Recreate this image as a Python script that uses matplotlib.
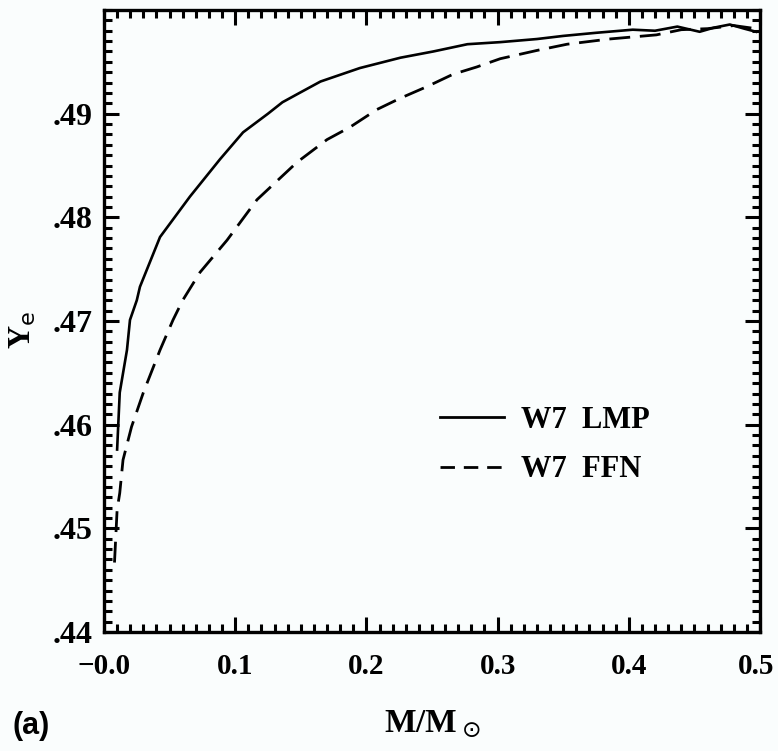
import matplotlib
matplotlib.use("Agg")
import matplotlib.pyplot as plt
from matplotlib.ticker import FixedLocator, MultipleLocator
from matplotlib.lines import Line2D
from matplotlib.transforms import ScaledTranslation

# ---- data ----
lmp_mass = [0.010, 0.012, 0.0175, 0.0198, 0.025, 0.0274, 0.0427, 0.0655, 0.0884,
            0.106, 0.125, 0.136, 0.149, 0.165, 0.195, 0.226, 0.251, 0.277, 0.302,
            0.330, 0.350, 0.375, 0.403, 0.420, 0.437, 0.454, 0.465, 0.477, 0.488, 0.497]
lmp_ye = [0.4576, 0.4631, 0.4672, 0.4701, 0.4720, 0.4733, 0.4781, 0.4820, 0.4856,
          0.4882, 0.4900, 0.4911, 0.4920, 0.4931, 0.4944, 0.4954, 0.4960, 0.4967, 0.4969,
          0.4972, 0.4975, 0.4978, 0.4981, 0.4980, 0.4984, 0.4979, 0.4983, 0.4986, 0.4982, 0.4979]

ffn_mass = [0.008, 0.010, 0.012, 0.0145, 0.021, 0.030, 0.0427, 0.0526, 0.060, 0.0732,
            0.0938, 0.1166, 0.147, 0.170, 0.1875, 0.208, 0.226, 0.246, 0.266, 0.284,
            0.302, 0.330, 0.353, 0.385, 0.421, 0.440, 0.460, 0.480, 0.497]
ffn_ye = [0.4467, 0.4518, 0.4534, 0.4566, 0.4598, 0.4631, 0.4672, 0.4701, 0.4720, 0.4747,
          0.4778, 0.4817, 0.4853, 0.4875, 0.4887, 0.4904, 0.4915, 0.4926, 0.4938, 0.4945,
          0.4953, 0.4961, 0.4967, 0.4972, 0.4976, 0.4981, 0.4982, 0.4985, 0.4982]

xticks = [0.0, 0.1, 0.2, 0.3, 0.4, 0.5]
xticklabels = ["\u22120.0", "0.1", "0.2", "0.3", "0.4", "0.5"]
yticks = [0.44, 0.45, 0.46, 0.47, 0.48, 0.49]
yticklabels = [".44", ".45", ".46", ".47", ".48", ".49"]
series_labels = ["W7  LMP", "W7  FFN"]

SERIF = ["Liberation Serif", "DejaVu Serif"]

bg = "#fafdfd"
fig = plt.figure(figsize=(7.78, 7.51), dpi=100, facecolor=bg)
ax = fig.add_axes([104/778, 1 - 632/751, (760-104)/778, (632-10)/751])
ax.set_facecolor(bg)

ax.plot(lmp_mass, lmp_ye, color="black", lw=1.9, solid_joinstyle="round")
ax.plot(ffn_mass, ffn_ye, color="black", lw=2.0, dashes=(7.5, 3.5))

ax.set_xlim(0.0, 0.5)
ax.set_ylim(0.44, 0.50)

ax.xaxis.set_major_locator(FixedLocator(xticks))
ax.set_xticklabels(xticklabels)
ax.yaxis.set_major_locator(FixedLocator(yticks))
ax.set_yticklabels(yticklabels)
ax.xaxis.set_minor_locator(MultipleLocator(0.01))
ax.yaxis.set_minor_locator(MultipleLocator(0.001))

for s in ax.spines.values():
    s.set_linewidth(2.4)

ax.tick_params(which="both", direction="in", top=True, right=True, width=2.2)
ax.tick_params(which="major", length=11)
ax.tick_params(which="minor", length=6)
ax.tick_params(axis="x", which="major", pad=15)
ax.tick_params(axis="y", which="major", pad=8)

for lab in ax.get_xticklabels():
    lab.set_family(SERIF)
    lab.set_fontweight("bold")
    lab.set_fontsize(21)
for lab in ax.get_yticklabels():
    lab.set_family(SERIF)
    lab.set_fontweight("bold")
    lab.set_fontsize(23)

# nudge the last x tick label slightly left so it stays inside the figure
last = ax.xaxis.get_major_ticks()[-1].label1
last.set_transform(last.get_transform() + ScaledTranslation(-4/100, 0, fig.dpi_scale_trans))

ax.set_xlabel(r"M/M$_\odot$", fontsize=24, fontweight="bold", family=SERIF, labelpad=20)
ax.set_ylabel(r"Y$_\mathrm{e}$", fontsize=23, fontweight="bold", family=SERIF)
ax.yaxis.set_label_coords(-0.10, 0.485)

fig.text(12/778, 1 - 726/751, "(a)", fontsize=22, fontweight="bold",
         family=["Liberation Sans", "DejaVu Sans"], va="center", ha="left")

handles = [Line2D([], [], color="black", lw=2.0),
           Line2D([], [], color="black", lw=2.0, dashes=(5.2, 3.2))]
leg = ax.legend(handles, series_labels, loc="center left",
                bbox_to_anchor=((440-104)/656, (632-445)/622), frameon=False,
                borderpad=0, borderaxespad=0, handlelength=2.1,
                handletextpad=0.55, labelspacing=0.68,
                prop={"family": SERIF, "weight": "bold", "size": 22})

fig.savefig("out.png", dpi=100, facecolor=bg)
